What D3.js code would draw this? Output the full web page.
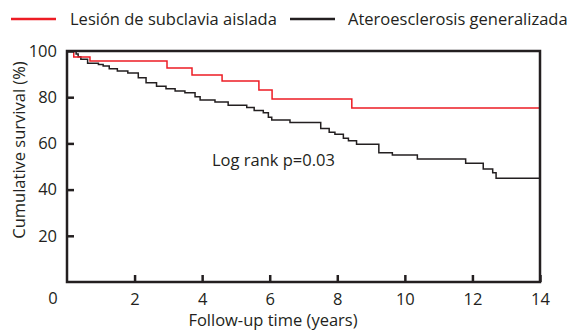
<!DOCTYPE html>
<html>
<head>
<meta charset="utf-8">
<script src="https://cdn.jsdelivr.net/npm/d3@7"></script>
<style>
  body { margin: 0; background: #fff; }
  svg text { font-family: "Open Sans", "Noto Sans", sans-serif; fill: #231f20; }
</style>
</head>
<body>
<svg id="chart"></svg>
<script>
// Kaplan-Meier curves (time in years, survival in %)
const seriesNames = ["Lesión de subclavia aislada", "Ateroesclerosis generalizada"];
const redTimes = [0, 0.2, 0.68, 2.96, 3.7, 4.59, 5.68, 6.07, 8.43, 14];
const redValues = [100, 97.4, 95.7, 92.6, 89.6, 87.0, 83.1, 79.2, 75.3, 75.3];
const blackTimes = [0, 0.27, 0.33, 0.41, 0.61, 0.93, 1.07, 1.25, 1.49, 1.8, 2.11, 2.34, 2.65, 2.93,
  3.2, 3.49, 3.79, 3.94, 4.38, 4.77, 5.32, 5.54, 5.81, 5.96, 6.06, 6.6, 7.51, 7.76, 7.93, 8.18,
  8.33, 8.57, 9.23, 9.63, 10.37, 11.8, 12.32, 12.6, 12.7, 14];
const blackValues = [100, 98.7, 97.5, 96.4, 94.7, 94.2, 93.5, 92.3, 91.3, 90.5, 88.4, 86.3, 84.7, 83.7,
  82.7, 81.9, 80.2, 78.8, 77.9, 76.5, 75.5, 74.2, 73.3, 71.3, 70.1, 69.0, 66.5, 64.8, 64.0, 62.2,
  61.2, 59.6, 56.0, 55.0, 53.2, 51.4, 48.9, 47.3, 44.9, 44.9];
const xTicks = [2, 4, 6, 8, 10, 12, 14];
const yTicks = [20, 40, 60, 80, 100];
const annotation = "Log rank p=0.03";

const width = 568, height = 330;
const margin = { top: 51, right: 28, bottom: 48, left: 67 };
const innerW = width - margin.left - margin.right;
const innerH = height - margin.top - margin.bottom;
const colors = ["#ed1c24", "#231f20"];
const fs = 16.5;

const svg = d3.select("#chart").attr("width", width).attr("height", height);

const x = d3.scaleLinear().domain([0, 14]).range([margin.left, margin.left + innerW]);
const y = d3.scaleLinear().domain([0, 100]).range([margin.top + innerH, margin.top]);

// legend
const legend = svg.append("g");
const legendX = [11, 290];
const legendTextX = [70, 348];
seriesNames.forEach((name, i) => {
  legend.append("line")
    .attr("x1", legendX[i]).attr("x2", legendX[i] + 45)
    .attr("y1", 19).attr("y2", 19)
    .attr("stroke", colors[i]).attr("stroke-width", 2.5);
  legend.append("text")
    .attr("x", legendTextX[i]).attr("y", 25)
    .attr("font-size", fs)
    .text(name);
});

// curves
const line = d3.line().curve(d3.curveStepAfter).x(d => x(d[0])).y(d => y(d[1]));
[[blackTimes, blackValues, colors[1]], [redTimes, redValues, colors[0]]].forEach(([ts, vs, c]) => {
  svg.append("path")
    .datum(ts.map((t, i) => [t, vs[i]]))
    .attr("fill", "none")
    .attr("stroke", c)
    .attr("stroke-width", 1.5)
    .attr("d", line);
});

// frame
svg.append("rect")
  .attr("x", margin.left).attr("y", margin.top)
  .attr("width", innerW).attr("height", innerH)
  .attr("fill", "none").attr("stroke", "#231f20").attr("stroke-width", 2.5);

// axes (ticks point inward)
const xAxis = svg.append("g")
  .attr("transform", "translate(0," + (margin.top + innerH) + ")")
  .call(d3.axisBottom(x).tickValues(xTicks).tickSize(-7).tickPadding(11).tickFormat(d3.format("d")));
const yAxis = svg.append("g")
  .attr("transform", "translate(" + margin.left + ",0)")
  .call(d3.axisLeft(y).tickValues(yTicks).tickSize(-7).tickPadding(10).tickFormat(d3.format("d")));
[xAxis, yAxis].forEach(a => {
  a.select(".domain").remove();
  a.selectAll(".tick line").attr("stroke", "#231f20").attr("stroke-width", 2.5);
  a.selectAll(".tick text").attr("font-size", fs).attr("fill", "#231f20")
    .style("font-family", '"Open Sans", "Noto Sans", sans-serif');
});

// shared origin label
svg.append("text")
  .attr("x", 53).attr("y", 304)
  .attr("text-anchor", "middle").attr("font-size", fs)
  .text("0");

// axis titles
svg.append("text")
  .attr("x", 273).attr("y", 326)
  .attr("text-anchor", "middle").attr("font-size", fs)
  .text("Follow-up time (years)");
svg.append("text")
  .attr("transform", "translate(25,150) rotate(-90)")
  .attr("text-anchor", "middle").attr("font-size", fs)
  .text("Cumulative survival (%)");

// annotation
svg.append("text")
  .attr("x", 212).attr("y", 166)
  .attr("font-size", fs)
  .text(annotation);
</script>
</body>
</html>
